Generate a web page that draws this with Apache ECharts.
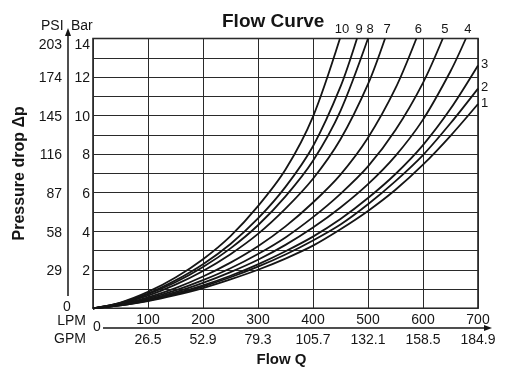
<!DOCTYPE html>
<html><head><meta charset="utf-8">
<script src="https://cdn.jsdelivr.net/npm/echarts@6/dist/echarts.min.js"></script>
<style>html,body{margin:0;padding:0;background:#fff}#c{width:506px;height:374px}</style>
</head><body><div id="c"></div>
<script>
// Flow rate sample points (LPM)
const flowLPM = [0,50,100,150,200,250,300,350,400,450,500,550,600,650,700];
// Pressure drop (bar) per curve, read at flowLPM points
const curve1  = [0,0.15,0.37,0.68,1.05,1.50,2.00,2.58,3.25,4.10,5.05,6.15,7.45,8.95,10.6];
const curve2  = [0,0.15,0.40,0.73,1.13,1.61,2.16,2.79,3.52,4.35,5.40,6.60,7.95,9.60,11.4];
const curve3  = [0,0.16,0.42,0.77,1.19,1.69,2.28,2.96,3.72,4.63,5.72,6.97,8.47,10.35,12.6];
const curve4  = [0,0.18,0.46,0.84,1.32,1.88,2.52,3.29,4.19,5.23,6.44,7.91,9.79,12.3];
const curve5  = [0,0.19,0.51,0.93,1.46,2.08,2.82,3.68,4.73,5.94,7.36,9.25,11.7];
const curve6  = [0,0.21,0.57,1.05,1.65,2.37,3.22,4.25,5.49,6.94,8.85,11.42];
const curve7  = [0,0.25,0.66,1.23,1.94,2.81,3.86,5.17,6.72,8.77,11.63];
const curve8  = [0,0.26,0.73,1.35,2.14,3.11,4.31,5.81,7.66,10.25];
const curve9  = [0,0.28,0.77,1.45,2.29,3.34,4.66,6.30,8.41,11.50];
const curve10 = [0,0.30,0.85,1.60,2.55,3.75,5.30,7.20,9.95];
// Flow (LPM) where curves leave the top of the chart (14 bar); null = runs to 700
const exitLPM = [null,null,null,678,636,588,531,500,480,449];
const curveNames = ['1','2','3','4','5','6','7','8','9','10'];
// Tick labels
const lpmTicks = [100,200,300,400,500,600,700];
const gpmLabels = ['26.5','52.9','79.3','105.7','132.1','158.5','184.9'];
const barTicks = [2,4,6,8,10,12,14];
const psiLabels = ['29','58','87','116','145','174','203'];

const FF = "'Liberation Sans', Arial, Helvetica, sans-serif";
const INK = '#151515';
const curveValues = [curve1,curve2,curve3,curve4,curve5,curve6,curve7,curve8,curve9,curve10];

const series = curveValues.map((vals, k) => {
  const data = vals.map((v, i) => [flowLPM[i], v]);
  const top = exitLPM[k] != null;
  if (top) data.push([exitLPM[k], 14]);
  const last = data.length - 1;
  data[last] = {
    value: data[last],
    label: {
      show: true,
      position: top ? 'top' : 'right',
      distance: 3,
      offset: top ? [2, 0] : [0, -1],
      formatter: curveNames[k],
      color: INK, fontSize: 13, fontFamily: FF
    }
  };
  return {
    type: 'line', name: curveNames[k], data,
    smooth: 0.3, showSymbol: true, symbol: 'circle', symbolSize: 0.01,
    itemStyle: {color: INK},
    lineStyle: {color: INK, width: 1.8},
    clip: false, silent: true, animation: false, z: 3
  };
});

const chart = echarts.init(document.getElementById('c'), null, {renderer: 'canvas'});
chart.setOption({
  backgroundColor: '#fff',
  animation: false,
  title: {
    text: 'Flow Curve', left: 217, top: 7,
    textStyle: {fontFamily: FF, fontSize: 19, fontWeight: 'bold', color: INK}
  },
  grid: {left: 93, right: 28, top: 38.5, bottom: 65.7, show: true,
         borderColor: INK, borderWidth: 1.5, backgroundColor: 'transparent'},
  xAxis: [
    {type: 'value', min: 0, max: 700, interval: 100,
     axisLine: {show: false}, axisTick: {show: false},
     splitLine: {show: true, lineStyle: {color: '#2a2a2a', width: 1}},
     axisLabel: {margin: 5, fontSize: 14, color: INK, fontFamily: FF,
       formatter: v => lpmTicks.indexOf(v) >= 0 ? String(v) : ''}},
    {type: 'value', min: 0, max: 700, interval: 100, position: 'bottom', offset: 20,
     axisLine: {show: false}, axisTick: {show: false}, splitLine: {show: false},
     axisLabel: {margin: 5, fontSize: 14, color: INK, fontFamily: FF,
       formatter: v => { const i = lpmTicks.indexOf(v); return i >= 0 ? gpmLabels[i] : ''; }},
     name: 'Flow Q', nameLocation: 'middle', nameGap: 21,
     nameTextStyle: {fontFamily: FF, fontSize: 15, fontWeight: 'bold', color: INK, padding: [0, 8, 0, 0]}}
  ],
  yAxis: [
    {type: 'value', min: 0, max: 14, interval: 1, position: 'left',
     axisLine: {show: false}, axisTick: {show: false},
     splitLine: {show: true, lineStyle: {color: '#2a2a2a', width: 1}},
     axisLabel: {margin: 3, color: INK, fontFamily: FF, fontSize: 14,
       formatter: v => { const i = barTicks.indexOf(v); if (i < 0) return ''; return v === 14 ? '{t|' + v + '}' : '{n|' + v + '}'; },
       rich: {t: {fontSize: 14, fontFamily: FF, color: INK, padding: [13, 0, 0, 0]},
              n: {fontSize: 14, fontFamily: FF, color: INK, padding: [3, 0, 0, 0]}}}},
    {type: 'value', min: 0, max: 14, interval: 1, position: 'left', offset: 25,
     axisLine: {show: false}, axisTick: {show: false}, splitLine: {show: false},
     axisLabel: {margin: 6, color: INK, fontFamily: FF, fontSize: 14,
       formatter: v => { const i = barTicks.indexOf(v); if (i < 0) return ''; return v === 14 ? '{t|' + psiLabels[i] + '}' : '{n|' + psiLabels[i] + '}'; },
       rich: {t: {fontSize: 14, fontFamily: FF, color: INK, padding: [13, 0, 0, 0]},
              n: {fontSize: 14, fontFamily: FF, color: INK, padding: [3, 0, 0, 0]}}},
     name: 'Pressure drop \u0394p', nameLocation: 'middle', nameGap: 32, nameRotate: 90,
     nameTextStyle: {fontFamily: FF, fontSize: 16, fontWeight: 'bold', color: INK}}
  ],
  graphic: [
    {type: 'line', shape: {x1: 68, y1: 296, x2: 68, y2: 34}, style: {stroke: INK, lineWidth: 1.5}},
    {type: 'polygon', shape: {points: [[68, 28], [65, 36], [71, 36]]}, style: {fill: INK}},
    {type: 'line', shape: {x1: 103, y1: 328, x2: 485, y2: 328}, style: {stroke: INK, lineWidth: 1.5}},
    {type: 'polygon', shape: {points: [[492, 328], [484, 325], [484, 331]]}, style: {fill: INK}},
    {type: 'text', x: 41, y: 26, style: {text: 'PSI', font: '14px ' + FF, fill: INK, textVerticalAlign: 'middle'}},
    {type: 'text', x: 71, y: 26, style: {text: 'Bar', font: '14px ' + FF, fill: INK, textVerticalAlign: 'middle'}},
    {type: 'text', x: 67, y: 307, style: {text: '0', font: '14px ' + FF, fill: INK, textAlign: 'center', textVerticalAlign: 'middle'}},
    {type: 'text', x: 86, y: 321, style: {text: 'LPM', font: '14px ' + FF, fill: INK, textAlign: 'right', textVerticalAlign: 'middle'}},
    {type: 'text', x: 86, y: 339, style: {text: 'GPM', font: '14px ' + FF, fill: INK, textAlign: 'right', textVerticalAlign: 'middle'}},
    {type: 'text', x: 97, y: 327, style: {text: '0', font: '14px ' + FF, fill: INK, textAlign: 'center', textVerticalAlign: 'middle'}}
  ],
  series
});
</script></body></html>
